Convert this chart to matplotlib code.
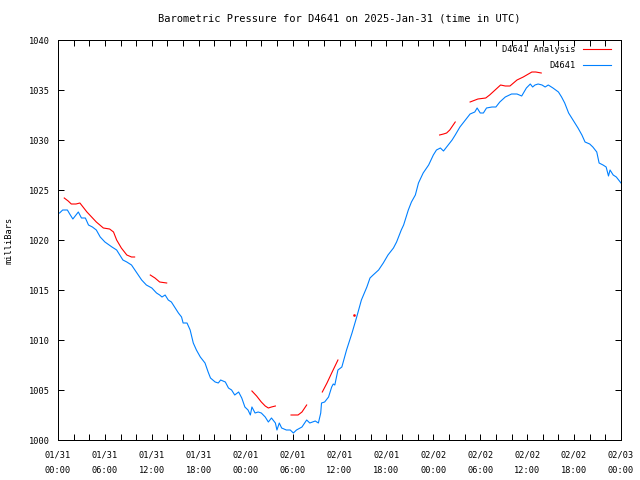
import numpy as np
import matplotlib.pyplot as plt
from matplotlib.ticker import MultipleLocator

plt.rcParams['font.family'] = ['DejaVu Sans Mono']
plt.rcParams['font.size'] = 6.2

# hours since 2025-01-31 00:00 UTC
obs_hours = [0.2, 0.6, 1.2, 1.5, 1.9, 2.3, 2.6, 3.0, 3.5, 3.9, 4.4, 4.9, 5.4, 6.0, 6.9, 7.5,
             7.9, 8.3, 8.8, 9.4, 10.1, 10.7, 11.3, 12.0, 12.6, 13.0, 13.3, 13.7, 14.1, 14.5,
             15.0, 15.4, 15.8, 16.0, 16.5, 16.9, 17.3, 17.7, 18.2, 18.8, 19.2, 19.5, 20.1,
             20.5, 20.8, 21.4, 21.8, 22.2, 22.6, 23.1, 23.5, 23.9, 24.3, 24.6, 24.8, 25.2,
             25.6, 26.0, 26.5, 26.9, 27.3, 27.8, 28.0, 28.3, 28.6, 29.2, 29.7, 30.1, 30.5,
             31.2, 31.8, 32.2, 32.9, 33.3, 33.6, 33.7, 34.1, 34.6, 35.0, 35.2, 35.4, 35.8,
             36.3, 36.9, 37.6, 38.2, 38.8, 39.5, 39.9, 40.3, 41.0, 41.6, 42.2, 42.9, 43.3,
             43.9, 44.2, 44.8, 45.2, 45.7, 46.1, 46.7, 47.4, 48.0, 48.4, 48.9, 49.3, 49.7,
             50.4, 50.8, 51.4, 52.1, 52.7, 53.3, 53.6, 54.0, 54.4, 54.8, 55.5, 56.0, 56.5,
             57.2, 58.0, 58.7, 59.3, 59.9, 60.4, 60.7, 61.0, 61.4, 61.9, 62.3, 62.7, 63.3,
             64.0, 64.4, 64.8, 65.3, 65.7, 66.1, 66.5, 67.0, 67.4, 68.0, 68.4, 68.9, 69.2,
             69.7, 70.1, 70.4, 70.6, 71.0, 71.4, 71.9, 72.0]
obs_mb = [1022.7, 1023.0, 1023.0, 1022.6, 1022.1, 1022.5, 1022.8, 1022.2, 1022.2, 1021.5,
          1021.3, 1021.0, 1020.3, 1019.8, 1019.3, 1019.0, 1018.5, 1018.0, 1017.8, 1017.5,
          1016.7, 1016.0, 1015.5, 1015.2, 1014.7, 1014.5, 1014.3, 1014.5, 1014.0, 1013.8,
          1013.2, 1012.7, 1012.3, 1011.7, 1011.7, 1011.0, 1009.7, 1009.0, 1008.3, 1007.7,
          1006.8, 1006.2, 1005.8, 1005.7, 1006.0, 1005.8, 1005.2, 1005.0, 1004.5, 1004.8,
          1004.2, 1003.3, 1003.0, 1002.5, 1003.3, 1002.7, 1002.8, 1002.7, 1002.3, 1001.8,
          1002.2, 1001.7, 1001.0, 1001.7, 1001.2, 1001.0, 1001.0, 1000.7, 1001.0, 1001.3,
          1002.0, 1001.7, 1001.9, 1001.7, 1002.7, 1003.7, 1003.8, 1004.3, 1005.3, 1005.6,
          1005.5, 1007.0, 1007.3, 1009.0, 1010.7, 1012.3, 1014.0, 1015.3, 1016.2, 1016.5,
          1017.0, 1017.7, 1018.5, 1019.2, 1019.8, 1021.0, 1021.5, 1023.0, 1023.8, 1024.5,
          1025.7, 1026.7, 1027.5, 1028.5, 1029.0, 1029.2, 1028.9, 1029.3, 1030.0, 1030.5,
          1031.3, 1032.0, 1032.6, 1032.8, 1033.2, 1032.7, 1032.7, 1033.2, 1033.3, 1033.3,
          1033.8, 1034.3, 1034.6, 1034.6, 1034.4, 1035.2, 1035.6, 1035.3, 1035.5, 1035.6,
          1035.5, 1035.3, 1035.5, 1035.2, 1034.8, 1034.3, 1033.7, 1032.7, 1032.2, 1031.7,
          1031.2, 1030.5, 1029.8, 1029.6, 1029.3, 1028.8, 1027.7, 1027.5, 1027.3, 1026.4,
          1027.0, 1026.5, 1026.3, 1025.8, 1025.7]

# analysis, nan = gap between segments
ana_hours = [0.8, 1.3, 1.7, 2.3, 2.8, 3.2, 3.7, 4.3, 4.9, 5.8, 6.6, 7.1, 7.5, 8.1, 8.8, 9.4, 9.8,
             np.nan, 11.8, 12.4, 13.0, 13.9,
             np.nan, 24.8, 25.4, 26.0, 26.5, 26.9, 27.3, 27.8,
             np.nan, 29.8, 30.7, 31.2, 31.8,
             np.nan, 33.8, 34.4, 35.0, 35.8,
             np.nan, 48.8, 49.3, 49.7, 50.1, 50.8,
             np.nan, 52.7, 53.7, 54.7, 55.2, 55.9, 56.6, 57.2, 57.8, 58.7, 59.5, 60.6, 61.1, 61.8]
ana_mb = [1024.2, 1023.9, 1023.6, 1023.6, 1023.7, 1023.3, 1022.8, 1022.3, 1021.8, 1021.2,
          1021.1, 1020.8, 1020.0, 1019.2, 1018.5, 1018.3, 1018.3,
          np.nan, 1016.5, 1016.2, 1015.8, 1015.7,
          np.nan, 1004.9, 1004.4, 1003.8, 1003.4, 1003.2, 1003.3, 1003.4,
          np.nan, 1002.5, 1002.5, 1002.8, 1003.5,
          np.nan, 1004.8, 1005.7, 1006.7, 1008.0,
          np.nan, 1030.5, 1030.6, 1030.7, 1031.0, 1031.8,
          np.nan, 1033.8, 1034.1, 1034.2, 1034.5, 1035.0, 1035.5, 1035.4, 1035.4, 1036.0,
          1036.3, 1036.8, 1036.8, 1036.7]
# lone analysis point
lone_hour = [37.8]
lone_mb = [1012.5]

xlabels = ['01/31\n00:00', '01/31\n06:00', '01/31\n12:00', '01/31\n18:00',
           '02/01\n00:00', '02/01\n06:00', '02/01\n12:00', '02/01\n18:00',
           '02/02\n00:00', '02/02\n06:00', '02/02\n12:00', '02/02\n18:00',
           '02/03\n00:00']

fig = plt.figure(figsize=(6.4, 4.8), dpi=100)
ax = fig.add_axes([58 / 640, 40 / 480, 563 / 640, 400 / 480])

ax.plot(ana_hours, ana_mb, color='#ff0000', lw=0.8, label='D4641 Analysis')
ax.plot(lone_hour, lone_mb, color='#ff0000', marker='s', ms=0.8, lw=0)
ax.plot(obs_hours, obs_mb, color='#0080ff', lw=0.8, label='D4641')

ax.set_xlim(0, 72)
ax.set_ylim(1000, 1040)
ax.set_xticks(np.arange(0, 73, 6))
ax.set_xticklabels(xlabels, linespacing=1.95)
ax.xaxis.set_minor_locator(MultipleLocator(2))
ax.yaxis.set_major_locator(MultipleLocator(5))
ax.tick_params(which='both', direction='in', top=True, right=True, length=4, width=0.72, color='black')
ax.tick_params(axis='x', pad=7.5)
ax.tick_params(axis='y', pad=6)
for sp in ax.spines.values():
    sp.set_linewidth(0.72)

ax.set_ylabel('milliBars', labelpad=11)
ax.set_title('Barometric Pressure for D4641 on 2025-Jan-31 (time in UTC)', pad=13)

leg = ax.legend(loc='upper right', frameon=False, markerfirst=False, handlelength=3.3,
                handletextpad=0.9, labelspacing=0.75, borderaxespad=0.2,
                bbox_to_anchor=(0.992, 1.0))
for ln in leg.get_lines():
    ln.set_linewidth(0.8)

fig.savefig('out.png', dpi=100)
